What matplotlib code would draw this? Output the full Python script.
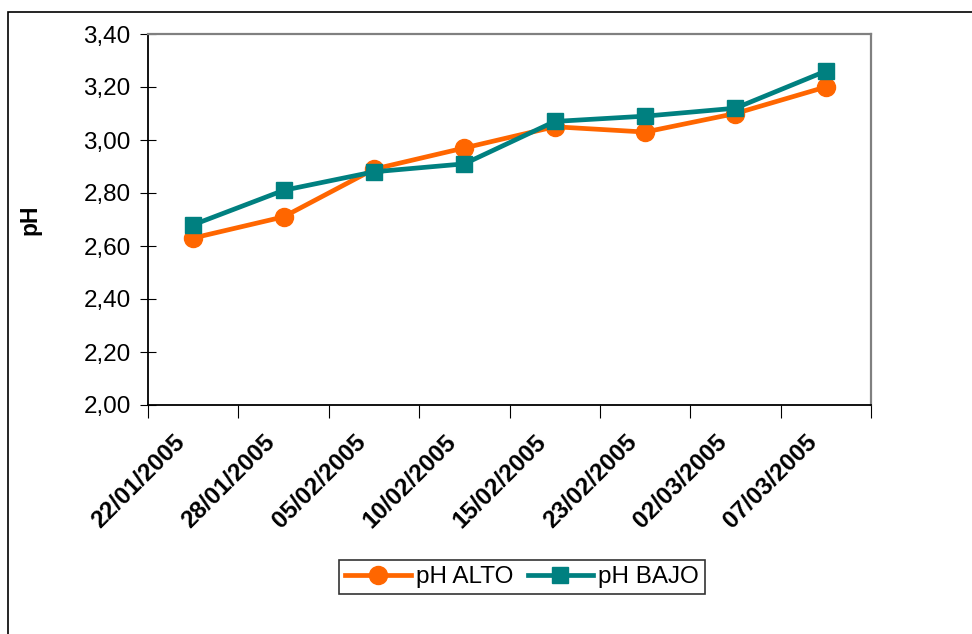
import matplotlib
matplotlib.use("Agg")
import matplotlib.pyplot as plt
from matplotlib.patches import Rectangle
from matplotlib.transforms import ScaledTranslation

fechas = ["22/01/2005", "28/01/2005", "05/02/2005", "10/02/2005",
          "15/02/2005", "23/02/2005", "02/03/2005", "07/03/2005"]
ph_alto = [2.63, 2.71, 2.89, 2.97, 3.05, 3.03, 3.10, 3.20]
ph_bajo = [2.68, 2.81, 2.88, 2.91, 3.07, 3.09, 3.12, 3.26]
y_ticks = [2.00, 2.20, 2.40, 2.60, 2.80, 3.00, 3.20, 3.40]

plt.rcParams['font.family'] = ['Liberation Sans', 'DejaVu Sans']

W, H = 972, 634
fig = plt.figure(figsize=(W / 100, H / 100), dpi=100)

# outer frame of the chart area
fig.patches.append(Rectangle((8 / W, -0.1), 1.2, 1.1 - 12 / H,
                             transform=fig.transFigure, fill=False,
                             edgecolor='black', linewidth=1.2))

ax = fig.add_axes([148 / W, 1 - 405 / H, (871 - 148) / W, (405 - 34) / H])

x = list(range(len(fechas)))
ax.plot(x, ph_alto, color='#FF6600', linewidth=3.4, marker='o',
        markersize=13, label='pH ALTO', zorder=3)
ax.plot(x, ph_bajo, color='#008080', linewidth=3.4, marker='s',
        markersize=12, label='pH BAJO', zorder=4)

ax.set_xlim(-0.5, len(fechas) - 0.5)
ax.set_ylim(2.0, 3.4)
ax.set_yticks(y_ticks)
ax.set_yticklabels([f"{v:.2f}".replace('.', ',') for v in y_ticks], fontsize=17.5)

ax.set_xticks([i - 0.5 for i in range(len(fechas) + 1)])
ax.set_xticklabels([])
ax.set_xticks(x, minor=True)
ax.set_xticklabels(fechas, minor=True, rotation=45, ha='right', va='center',
                   rotation_mode='anchor', fontsize=17.5, fontweight='bold')
ax.tick_params(axis='x', which='minor', length=0, pad=24)
ax.tick_params(axis='x', which='major', length=9, direction='out', color='black')
ax.tick_params(axis='y', length=11, direction='inout', color='black', pad=7)

# date labels sit slightly left of the category centres
shift = ScaledTranslation(-0.12, 0, fig.dpi_scale_trans)
for lbl in ax.get_xticklabels(minor=True):
    lbl.set_transform(lbl.get_transform() + shift)

ax.set_ylabel('pH', fontsize=16.5, fontweight='bold', labelpad=30)

for side in ('top', 'right'):
    ax.spines[side].set_color('#808080')
    ax.spines[side].set_linewidth(1.6)
for side in ('left', 'bottom'):
    ax.spines[side].set_color('black')
    ax.spines[side].set_linewidth(1.3)

leg = ax.legend(loc='center',
                bbox_to_anchor=((522 - 148) / (871 - 148), -(577 - 405) / (405 - 34)),
                ncol=2, fontsize=17.5, frameon=True, fancybox=False,
                edgecolor='black', handlelength=2.7, columnspacing=0.6,
                handletextpad=0.2, borderpad=0.25, handleheight=0.8)
leg.get_frame().set_linewidth(1.2)

fig.savefig('out.png', dpi=100)
